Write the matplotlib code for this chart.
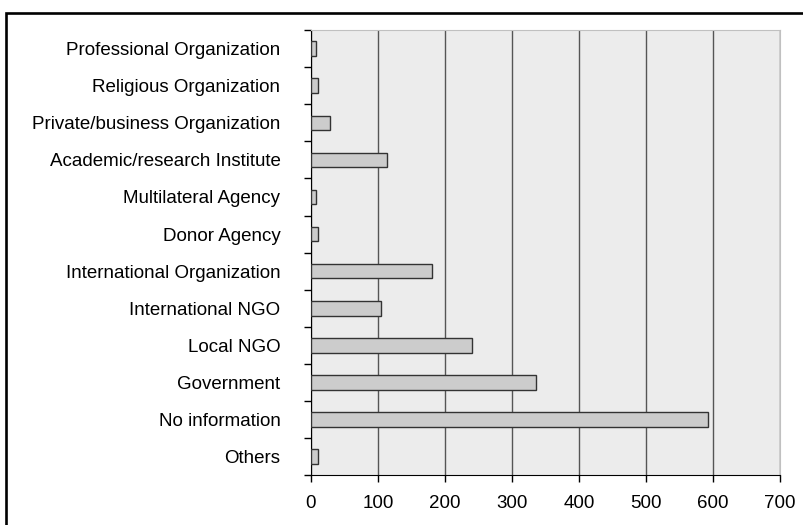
import matplotlib.pyplot as plt
from matplotlib.patches import Rectangle
import numpy as np

# organisation types, top to bottom
categories = ["Professional Organization", "Religious Organization",
              "Private/business Organization", "Academic/research Institute",
              "Multilateral Agency", "Donor Agency", "International Organization",
              "International NGO", "Local NGO", "Government", "No information",
              "Others"]
counts = [8, 11, 28, 113, 8, 11, 180, 104, 241, 336, 593, 11]
xticks = [0, 100, 200, 300, 400, 500, 600, 700]


def main():
    plt.rcParams['font.family'] = ['Liberation Sans', 'DejaVu Sans']
    fig = plt.figure(figsize=(8.04, 5.25), dpi=100)
    ax = fig.add_axes([0.3868, 0.0947, 0.9701 - 0.3868, 0.9429 - 0.0947])

    #frame around the whole figure
    fig.patches.append(Rectangle((6 / 804, -0.05), 1.0, 1 - 12.5 / 525 + 0.05,
                                 transform=fig.transFigure, fill=False,
                                 edgecolor='black', linewidth=1.9))

    ypos = np.arange(len(categories))
    ax.set_facecolor('#ececec')
    ax.barh(ypos, counts, height=0.39, color='#cccccc', edgecolor='#333333',
            linewidth=1.0, zorder=3)

    ax.set_xlim(0, 700)
    ax.set_ylim(len(categories) - 0.5, -0.5)
    ax.set_xticks(xticks)
    ax.set_xticklabels([str(v) for v in xticks], fontsize=13.5)
    ax.set_yticks(ypos)
    ax.set_yticklabels(categories, fontsize=13.5)
    ax.set_yticks(np.arange(len(categories) + 1) - 0.5, minor=True)
    ax.tick_params(axis='y', which='major', length=0, pad=22)
    ax.tick_params(axis='y', which='minor', length=5, width=1, color='black')
    ax.tick_params(axis='x', length=5, width=1, pad=9, color='black')

    #vertical grid lines
    ax.grid(True, axis='x', color='#555555', linewidth=1.0, zorder=1)
    ax.set_axisbelow(True)

    ax.spines['left'].set_color('black')
    ax.spines['bottom'].set_color('black')
    ax.spines['top'].set_color('#c0c0c0')
    ax.spines['right'].set_color('#c0c0c0')

    plt.savefig('out.png', dpi=100)


if __name__ == '__main__':
    main()
